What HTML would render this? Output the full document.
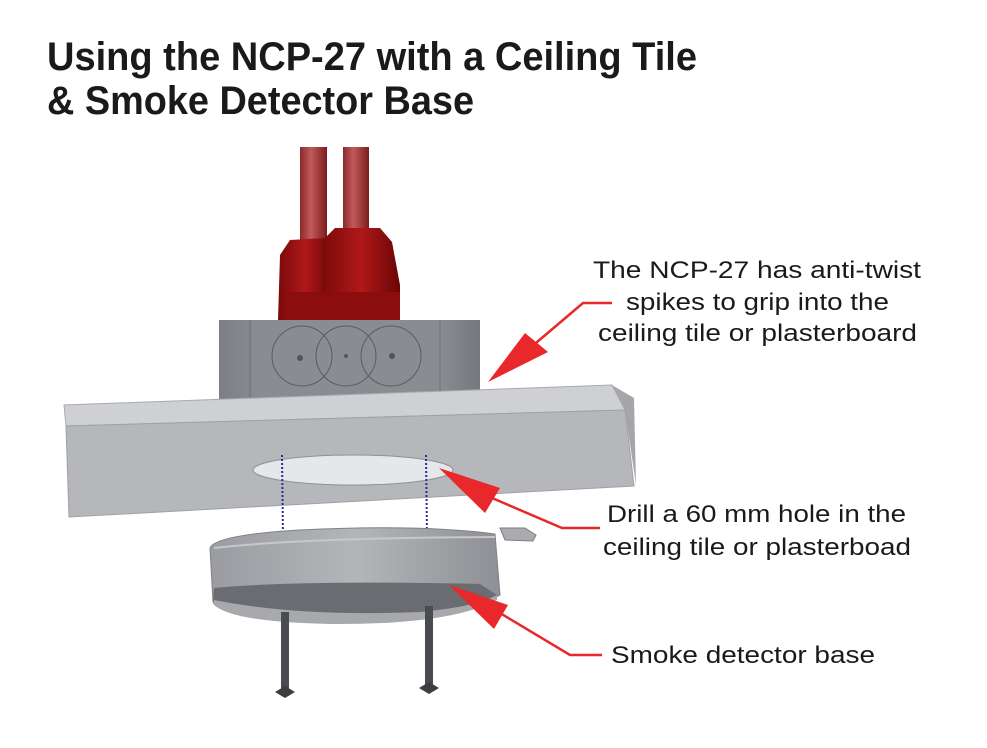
<!DOCTYPE html>
<html><head><meta charset="utf-8"><style>
html,body{margin:0;padding:0;background:#fff;}
svg{display:block;}
</style></head><body>
<svg width="987" height="748" viewBox="0 0 987 748" xmlns="http://www.w3.org/2000/svg">
<defs>
<linearGradient id="cab" x1="0" x2="1"><stop offset="0" stop-color="#8a2a2a"/><stop offset="0.4" stop-color="#c25a5a"/><stop offset="1" stop-color="#7a1c1c"/></linearGradient>
<linearGradient id="nut" x1="0" x2="1"><stop offset="0" stop-color="#7a0a0a"/><stop offset="0.5" stop-color="#b01818"/><stop offset="1" stop-color="#6a0606"/></linearGradient>
<linearGradient id="box" x1="0" x2="1"><stop offset="0" stop-color="#7c7e84"/><stop offset="0.15" stop-color="#8a8c92"/><stop offset="0.85" stop-color="#8a8c92"/><stop offset="1" stop-color="#75777c"/></linearGradient>
<linearGradient id="base" x1="0" x2="1"><stop offset="0" stop-color="#9a9ca1"/><stop offset="0.5" stop-color="#b3b5b9"/><stop offset="1" stop-color="#8e9095"/></linearGradient>
</defs>
<text x="47" y="70" font-family="Liberation Sans, sans-serif" font-weight="bold" font-size="40" fill="#1a1a1a" textLength="650" lengthAdjust="spacingAndGlyphs">Using the NCP-27 with a Ceiling Tile</text>
<text x="47" y="114" font-family="Liberation Sans, sans-serif" font-weight="bold" font-size="40" fill="#1a1a1a" textLength="427" lengthAdjust="spacingAndGlyphs">&amp; Smoke Detector Base</text>

<rect x="300" y="147" width="27" height="100" fill="url(#cab)"/>
<rect x="343" y="147" width="26" height="95" fill="url(#cab)"/>
<path d="M280,255 L290,240 L325,238 L333,255 L333,320 L278,320 Z" fill="url(#nut)"/>
<path d="M323,240 L335,228 L380,228 L392,242 L400,285 L400,318 L322,320 Z" fill="url(#nut)"/>
<rect x="285" y="292" width="115" height="28" fill="#8c0d0d"/>
<rect x="219" y="320" width="261" height="88" fill="url(#box)"/>
<line x1="250" y1="320" x2="250" y2="408" stroke="#6d6f74"/>
<line x1="440" y1="320" x2="440" y2="408" stroke="#6d6f74"/>
<circle cx="302" cy="356" r="30" fill="none" stroke="#5a5c60"/>
<circle cx="346" cy="356" r="30" fill="none" stroke="#5a5c60"/>
<circle cx="391" cy="356" r="30" fill="none" stroke="#5a5c60"/>
<circle cx="300" cy="358" r="3" fill="#555"/><circle cx="346" cy="356" r="2" fill="#555"/><circle cx="392" cy="356" r="3" fill="#555"/>
<path d="M64,405 L612,385 L625,410 L66,426 Z" fill="#cfd0d4" stroke="#a8aaae" stroke-width="1"/>
<path d="M66,426 L625,410 L634,486 L69,517 Z" fill="#b5b7bb" stroke="#9fa1a6" stroke-width="1"/>
<path d="M612,385 L634,398 L636,485 L625,410 Z" fill="#a4a6aa"/>
<ellipse cx="353" cy="470" rx="100" ry="15" fill="#e6e7ea" stroke="#8f9195"/>
<g stroke="#2a2a9a" stroke-width="2" stroke-dasharray="2,2">
<line x1="282" y1="455" x2="283" y2="538"/><line x1="426" y1="455" x2="427" y2="535"/>
<line x1="285" y1="598" x2="285" y2="612"/><line x1="428" y1="595" x2="428" y2="605"/>
</g>
<path d="M500,528 L525,528 L536,535 L533,541 L505,540 Z" fill="#a9abaf" stroke="#7d7f83"/>
<path d="M210,548 Q215,535 300,530 Q420,524 495,534 L500,595 Q450,620 330,620 Q230,618 213,602 Z" fill="url(#base)" stroke="#7f8186"/>
<path d="M214,588 Q300,580 480,584 L497,595 Q450,618 330,618 Q230,616 213,602 Z" fill="#6a6c71"/>
<path d="M214,600 Q300,617 420,612 Q480,606 497,595 L497,600 Q450,625 330,624 Q230,622 213,604 Z" fill="#a7a9ad"/>
<path d="M214,548 Q300,538 495,537" fill="none" stroke="#c6c8cc" stroke-width="2"/>
<rect x="281" y="612" width="8" height="78" fill="#4a4b4e"/>
<rect x="425" y="606" width="8" height="80" fill="#4a4b4e"/>
<path d="M275,692 L285,686 L295,692 L285,698 Z" fill="#3c3d40"/>
<path d="M419,688 L429,682 L439,688 L429,694 Z" fill="#3c3d40"/>
<g stroke="#e8282a" stroke-width="2.5" fill="none">
<polyline points="612,303 583,303 530,348"/>
<polyline points="600,528 562,528 485,495"/>
<polyline points="602,655 570,655 495,610"/>
</g>
<g fill="#e8282a">
<polygon points="488,382 525,333 548,352"/>
<polygon points="439,468 500,488 485,513"/>
<polygon points="449,585 508,605 494,629"/>
</g>
<g font-family="Liberation Sans, sans-serif" font-size="24" fill="#1a1a1a">
<text x="593" y="278" textLength="328" lengthAdjust="spacingAndGlyphs">The NCP-27 has anti-twist</text>
<text x="626" y="310" textLength="263" lengthAdjust="spacingAndGlyphs">spikes to grip into the</text>
<text x="598" y="341" textLength="319" lengthAdjust="spacingAndGlyphs">ceiling tile or plasterboard</text>
<text x="607" y="522" textLength="299" lengthAdjust="spacingAndGlyphs">Drill a 60 mm hole in the</text>
<text x="603" y="555" textLength="308" lengthAdjust="spacingAndGlyphs">ceiling tile or plasterboad</text>
<text x="611" y="663" textLength="264" lengthAdjust="spacingAndGlyphs">Smoke detector base</text>
</g>
</svg>
</body></html>
